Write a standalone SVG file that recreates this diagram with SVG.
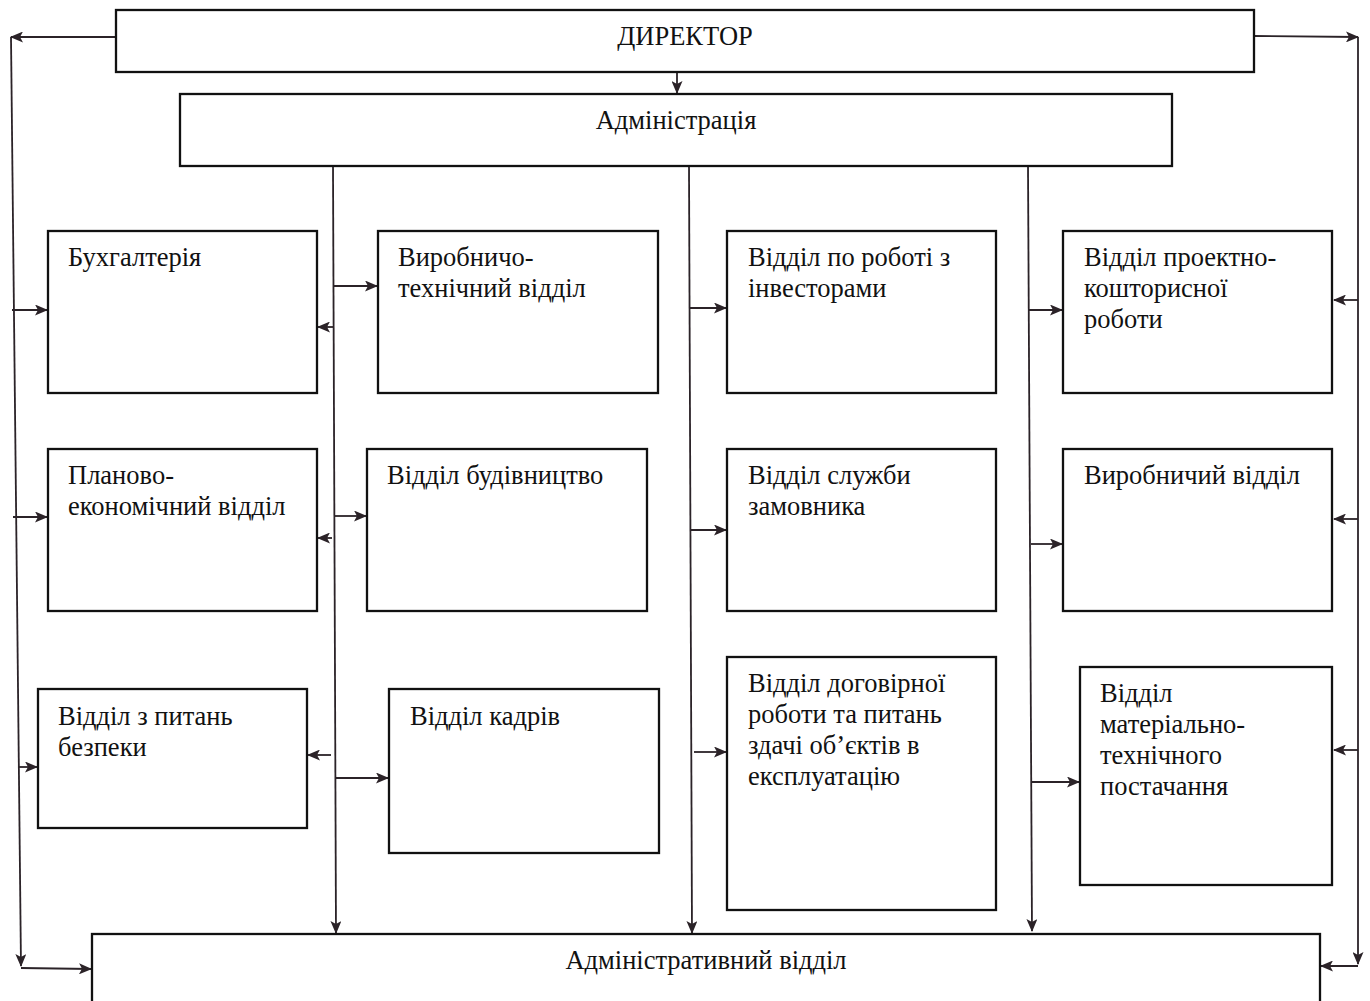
<svg xmlns="http://www.w3.org/2000/svg" width="1370" height="1001" viewBox="0 0 1370 1001">
<style>
.box{fill:#fff;stroke:#111;stroke-width:2.3}
.t{font-family:"Liberation Serif","Times New Roman",serif;font-size:26.5px;fill:#111}
.a{fill:none;stroke:#2b2328;stroke-width:1.8;marker-end:url(#ah)}
</style>
<defs>
<marker id="ah" markerWidth="13" markerHeight="11" refX="12" refY="5.5" orient="auto" markerUnits="userSpaceOnUse">
<path d="M0,0 L13,5.5 L0,11 L3,5.5 Z" fill="#2b2328"/>
</marker>
</defs>
<rect width="1370" height="1001" fill="#fff"/>

<g id="connectors">
<line class="a" x1="677" y1="72" x2="677" y2="93"/>
<line class="a" x1="116" y1="37" x2="11" y2="37"/>
<line class="a" x1="11" y1="37" x2="21" y2="966"/>
<line class="a" x1="21" y1="968" x2="91" y2="969"/>
<line class="a" x1="12" y1="310" x2="47" y2="310"/>
<line class="a" x1="13" y1="517" x2="47" y2="517"/>
<line class="a" x1="19" y1="767" x2="37" y2="767"/>
<line class="a" x1="1254" y1="36" x2="1358" y2="37"/>
<line class="a" x1="1358" y1="37" x2="1358" y2="964"/>
<line class="a" x1="1358" y1="966" x2="1321" y2="966"/>
<line class="a" x1="1358" y1="300" x2="1334" y2="300"/>
<line class="a" x1="1358" y1="519" x2="1334" y2="519"/>
<line class="a" x1="1358" y1="750" x2="1334" y2="750"/>
<line class="a" x1="333" y1="166" x2="336" y2="933"/>
<line class="a" x1="334" y1="286" x2="377" y2="286"/>
<line class="a" x1="333" y1="327" x2="318" y2="327"/>
<line class="a" x1="335" y1="516" x2="366" y2="516"/>
<line class="a" x1="332" y1="538" x2="318" y2="538"/>
<line class="a" x1="331" y1="755" x2="308" y2="755"/>
<line class="a" x1="336" y1="778" x2="388" y2="778"/>
<line class="a" x1="689" y1="166" x2="692" y2="933"/>
<line class="a" x1="690" y1="308" x2="726" y2="308"/>
<line class="a" x1="691" y1="530" x2="726" y2="530"/>
<line class="a" x1="694" y1="752" x2="726" y2="752"/>
<line class="a" x1="1028" y1="166" x2="1032" y2="931"/>
<line class="a" x1="1029" y1="310" x2="1062" y2="310"/>
<line class="a" x1="1031" y1="544" x2="1062" y2="544"/>
<line class="a" x1="1032" y1="782" x2="1079" y2="782"/>
</g>

<g id="director"><rect class="box" x="116" y="10" width="1138" height="62"/><text class="t" x="685" y="45" text-anchor="middle">ДИРЕКТОР</text></g>
<g id="admin"><rect class="box" x="180" y="94" width="992" height="72"/><text class="t" x="676" y="129" text-anchor="middle">Адміністрація</text></g>
<g id="admin-dept"><rect class="box" x="92" y="934" width="1228" height="80"/><text class="t" x="706" y="969" text-anchor="middle">Адміністративний відділ</text></g>

<g id="buh"><rect class="box" x="48" y="231" width="269" height="162"/><text class="t" x="68" y="266">Бухгалтерія</text></g>
<g id="plan"><rect class="box" x="48" y="449" width="269" height="162"/><text class="t" x="68" y="484">Планово-</text><text class="t" x="68" y="515">економічний відділ</text></g>
<g id="bezpeka"><rect class="box" x="38" y="689" width="269" height="139"/><text class="t" x="58" y="725">Відділ з питань</text><text class="t" x="58" y="756">безпеки</text></g>

<g id="vyrtekh"><rect class="box" x="378" y="231" width="280" height="162"/><text class="t" x="398" y="266">Виробничо-</text><text class="t" x="398" y="297">технічний відділ</text></g>
<g id="budivn"><rect class="box" x="367" y="449" width="280" height="162"/><text class="t" x="387" y="484">Відділ будівництво</text></g>
<g id="kadry"><rect class="box" x="389" y="689" width="270" height="164"/><text class="t" x="410" y="725">Відділ кадрів</text></g>

<g id="investory"><rect class="box" x="727" y="231" width="269" height="162"/><text class="t" x="748" y="266">Відділ по роботі з</text><text class="t" x="748" y="297">інвесторами</text></g>
<g id="zamovnyk"><rect class="box" x="727" y="449" width="269" height="162"/><text class="t" x="748" y="484">Відділ служби</text><text class="t" x="748" y="515">замовника</text></g>
<g id="dogovir"><rect class="box" x="727" y="657" width="269" height="253"/><text class="t" x="748" y="692">Відділ договірної</text><text class="t" x="748" y="723">роботи та питань</text><text class="t" x="748" y="754">здачі об’єктів в</text><text class="t" x="748" y="785">експлуатацію</text></g>

<g id="proekt"><rect class="box" x="1063" y="231" width="269" height="162"/><text class="t" x="1084" y="266">Відділ проектно-</text><text class="t" x="1084" y="297">кошторисної</text><text class="t" x="1084" y="328">роботи</text></g>
<g id="vyrobn"><rect class="box" x="1063" y="449" width="269" height="162"/><text class="t" x="1084" y="484">Виробничий відділ</text></g>
<g id="mtp"><rect class="box" x="1080" y="667" width="252" height="218"/><text class="t" x="1100" y="702">Відділ</text><text class="t" x="1100" y="733">матеріально-</text><text class="t" x="1100" y="764">технічного</text><text class="t" x="1100" y="795">постачання</text></g>
</svg>
